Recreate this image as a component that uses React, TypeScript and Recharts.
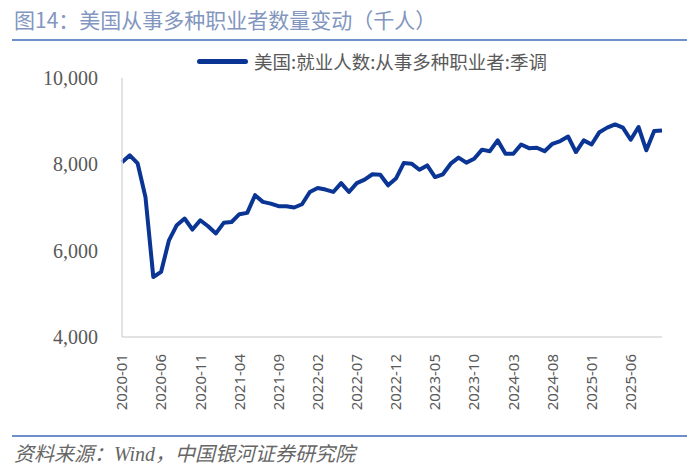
import { LineChart, Line, XAxis, YAxis } from 'recharts';

const startYear = 2020;
const months: string[] = [];
for (let i = 0; i < 70; i++) {
  const y = startYear + Math.floor(i / 12);
  const m = (i % 12) + 1;
  months.push(`${y}-${m < 10 ? '0' + m : m}`);
}

// 美国:就业人数:从事多种职业者:季调 (千人)
const jobholders = [
  8050, 8210, 8020, 7240, 5390, 5510, 6240, 6590, 6745, 6490,
  6705, 6565, 6400, 6645, 6665, 6845, 6875, 7285, 7130, 7090,
  7030, 7030, 7000, 7075, 7360, 7450, 7415, 7360, 7565, 7360,
  7565, 7645, 7770, 7760, 7515, 7670, 8030, 8015, 7875, 7975,
  7705, 7770, 8015, 8155, 8040, 8130, 8340, 8305, 8555, 8245,
  8245, 8460, 8375, 8385, 8305, 8475, 8540, 8645, 8285, 8555,
  8460, 8745, 8850, 8925, 8850, 8570, 8865, 8325, 8770, 8785,
];

const yTicks = [4000, 6000, 8000, 10000];

const seriesName = '美国:就业人数:从事多种职业者:季调';
const lineColor = '#0a3594';
const cjk = '"Noto Sans CJK SC", "Noto Sans", sans-serif';

const data = months.map((m, i) => ({ month: m, value: jobholders[i] }));

function MonthTick(props: any) {
  const { x, y, payload } = props;
  return (
    <g transform={`translate(${x},${y + 9})`}>
      <text
        x={0}
        y={0}
        dy="0.35em"
        transform="rotate(-90)"
        textAnchor="end"
        fill="#595959"
        fontSize={15}
        fontFamily='"Noto Sans", sans-serif'
      >
        {payload.value}
      </text>
    </g>
  );
}

export default function App() {
  return (
    <div
      style={{
        position: 'absolute',
        left: 0,
        top: 0,
        width: 700,
        height: 468,
        background: '#fff',
        overflow: 'hidden',
      }}
    >
      <div
        style={{
          position: 'absolute',
          left: 14,
          top: 4,
          fontFamily: cjk,
          fontSize: 21,
          color: '#8296c0',
          whiteSpace: 'nowrap',
        }}
      >
        图14：美国从事多种职业者数量变动（千人）
      </div>
      <div style={{ position: 'absolute', left: 12, top: 39, width: 675, height: 2, background: '#6f8fca' }} />

      <div style={{ position: 'absolute', left: 197, top: 48, height: 26, display: 'flex', alignItems: 'center', gap: 6 }}>
        <div style={{ width: 51, height: 5, borderRadius: 3, background: lineColor }} />
        <span style={{ fontFamily: cjk, fontSize: 18.5, color: '#595959', whiteSpace: 'nowrap' }}>{seriesName}</span>
      </div>

      <div style={{ position: 'absolute', left: 0, top: 0 }}>
        <LineChart width={700} height={468} data={data} margin={{ top: 78, right: 38, bottom: 56, left: 62 }}>
          <XAxis
            dataKey="month"
            interval={4}
            tick={<MonthTick />}
            tickLine={false}
            axisLine={{ stroke: '#d9d9d9', strokeWidth: 1.5 }}
            height={75}
          />
          <YAxis
            domain={[4000, 10000]}
            ticks={yTicks}
            width={60}
            tickLine={false}
            tickMargin={18}
            axisLine={{ stroke: '#d9d9d9', strokeWidth: 1.5 }}
            tickFormatter={(v: number) => v.toLocaleString('en-US')}
            tick={{ fill: '#595959', fontSize: 20, fontFamily: '"Liberation Serif", serif' }}
          />
          <Line
            type="linear"
            dataKey="value"
            name={seriesName}
            stroke={lineColor}
            strokeWidth={4}
            strokeLinejoin="round"
            dot={false}
            isAnimationActive={false}
          />
        </LineChart>
      </div>

      <div style={{ position: 'absolute', left: 12, top: 435, width: 675, height: 2, background: '#6f8fca' }} />
      <div
        style={{
          position: 'absolute',
          left: 14,
          top: 438,
          fontFamily: '"Liberation Serif", "Noto Sans CJK SC", serif',
          fontSize: 20,
          fontStyle: 'italic',
          color: '#666',
          whiteSpace: 'nowrap',
        }}
      >
        资料来源：Wind，中国银河证券研究院
      </div>
    </div>
  );
}
